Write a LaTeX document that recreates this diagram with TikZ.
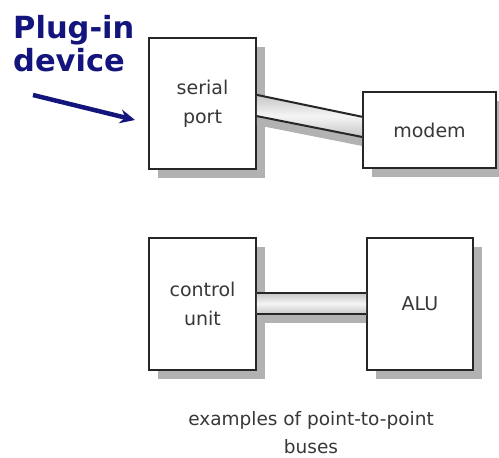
\documentclass[tikz,border=0pt]{standalone}
\usepackage{fontspec}
\setmainfont{DejaVu Sans}
\usetikzlibrary{calc,shadows,arrows.meta}
\definecolor{navy}{RGB}{20,20,125}
\definecolor{txt}{RGB}{55,55,55}
\definecolor{shad}{RGB}{178,178,178}
\tikzset{
  unitbox/.style={draw=black!85, line width=1.6pt, fill=white, align=center, text=txt,
    font=\fontsize{19}{29}\selectfont, inner sep=0pt,
    drop shadow={shadow xshift=9pt, shadow yshift=-9pt, fill=shad, opacity=1}},
  busline/.style={line width=2pt, black!85},
  busfill/.style={top color=gray!45, bottom color=gray!45, middle color=gray!8},
  busshadow/.style={fill=shad},
  plug/.style={text=navy, font=\fontsize{30.5}{33}\bfseries\selectfont, inner sep=0pt, anchor=base west}
}
\begin{document}
\begin{tikzpicture}[x=1pt,y=-1pt]
\useasboundingbox (0,0) rectangle (499,458);
% boxes
\node[unitbox, minimum width=107pt, minimum height=131pt] (sp) at (202.5,103.5) {serial\\port};
\node[unitbox, minimum width=133pt, minimum height=76pt] (md) at (429.5,130) {modem};
\node[unitbox, minimum width=107pt, minimum height=132pt] (cu) at (202.5,304) {control\\unit};
\node[unitbox, minimum width=106pt, minimum height=132pt] (alu) at (420,304) {ALU};
% upper bus
\coordinate (a1) at ($(sp.north east)!0.435!(sp.south east)$);
\coordinate (a2) at ($(sp.north east)!0.595!(sp.south east)$);
\coordinate (b1) at ($(md.north west)!0.33!(md.south west)$);
\coordinate (b2) at ($(md.north west)!0.59!(md.south west)$);
\fill[busshadow] (a2) -- (b2) -- ($(b2)+(0,9)$) -- ($(a2)+(0,9)$) -- cycle;
\fill[busfill] (a1) -- (b1) -- (b2) -- (a2) -- cycle;
\draw[busline] (a1) -- (b1);
\draw[busline] (a2) -- (b2);
% lower bus
\coordinate (c1) at ($(cu.north east)!0.417!(cu.south east)$);
\coordinate (c2) at ($(cu.north east)!0.576!(cu.south east)$);
\coordinate (d1) at ($(alu.north west)!0.417!(alu.south west)$);
\coordinate (d2) at ($(alu.north west)!0.576!(alu.south west)$);
\fill[busshadow] (c2) -- (d2) -- ($(d2)+(0,9)$) -- ($(c2)+(0,9)$) -- cycle;
\fill[busfill] (c1) -- (d1) -- (d2) -- (c2) -- cycle;
\draw[busline] (c1) -- (d1);
\draw[busline] (c2) -- (d2);
% caption
\node[align=center, text=txt, font=\fontsize{18.5}{28}\selectfont] (cap) at (311,433) {examples of point-to-point\\buses};
% plug-in label
\node[plug] (pl1) at (13,38) {Plug-in};
\node[plug] (pl2) at (13,71) {device};
\coordinate (tail) at (33,95);
\coordinate (tip) at (135,120);
\draw[navy, line width=4.5pt, -{Stealth[length=15pt,width=14pt,inset=5pt]}] (tail) -- (tip);
\end{tikzpicture}
\end{document}
